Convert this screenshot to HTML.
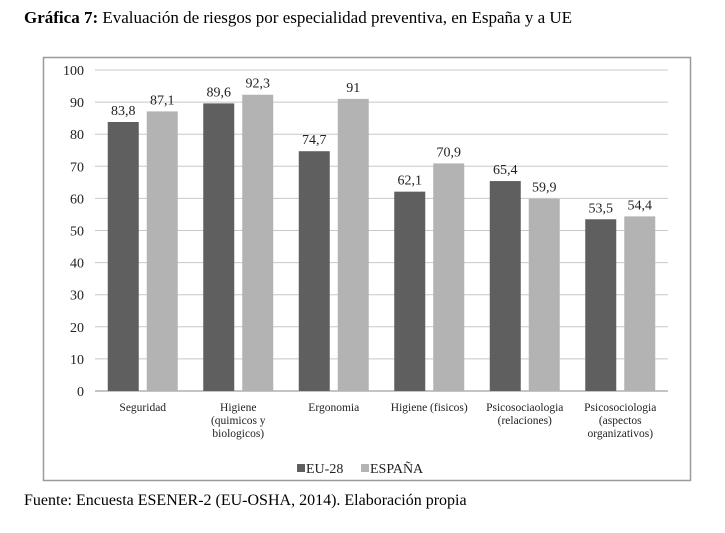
<!DOCTYPE html>
<html><head><meta charset="utf-8"><style>
body{margin:0;background:#fff;width:725px;height:528px;overflow:hidden;font-family:"Liberation Serif",serif;}
</style></head><body>
<svg width="725" height="528" xmlns="http://www.w3.org/2000/svg" font-family="Liberation Serif, serif">
<text x="24" y="23" font-size="17" fill="#000"><tspan font-weight="bold">Gráfica 7:</tspan> Evaluación de riesgos por especialidad preventiva, en España y a UE</text>
<rect x="43.5" y="57.5" width="647" height="423" fill="#fff" stroke="#9a9a9a" stroke-width="1.5"/>
<g id="grid"></g>
<g id="bars"></g>
<g id="legend">
<rect x="297" y="464" width="8" height="8" fill="#5f5f5f"/>
<text x="306" y="473" font-size="14" fill="#222">EU-28</text>
<rect x="361" y="464" width="8" height="8" fill="#b3b3b3"/>
<text x="370" y="473" font-size="14" fill="#222">ESPAÑA</text>
</g>
<text x="24" y="505" font-size="16" fill="#000">Fuente: Encuesta ESENER-2 (EU-OSHA, 2014). Elaboración propia</text>
</svg>
<script>
const categories=[["Seguridad"],["Higiene","(quimicos y","biologicos)"],["Ergonomia"],["Higiene (fisicos)"],["Psicosociaologia","(relaciones)"],["Psicosociologia","(aspectos","organizativos)"]];
const eu28=[83.8,89.6,74.7,62.1,65.4,53.5];
const espana=[87.1,92.3,91,70.9,59.9,54.4];
const yTicks=[0,10,20,30,40,50,60,70,80,90,100];
const NS="http://www.w3.org/2000/svg";
const x0=95,x1=668,y0=391,y100=70;
const y=v=>y0-(v/100)*(y0-y100);
const gw=(x1-x0)/categories.length;
function mk(t,a,p){const e=document.createElementNS(NS,t);for(const k in a)e.setAttribute(k,a[k]);p.appendChild(e);return e;}
const grid=document.getElementById('grid'),bars=document.getElementById('bars');
yTicks.forEach(t=>{
  const l=mk('line',{x1:x0,x2:x1,y1:y(t),y2:y(t),stroke:t===0?'#888':'#c8c8c8','stroke-width':1},grid);
  
  
  const tx=mk('text',{x:84,y:y(t)+5,'text-anchor':'end','font-size':14,fill:'#222'},grid);
  tx.textContent=t;
  
  
});
const fmt=v=>String(v).replace('.',',');
categories.forEach((c,i)=>{
  const cx=x0+gw*(i+0.5),bw=31,gap=8;
  [[eu28[i],'#5f5f5f',cx-gap/2-bw,'eu28'],[espana[i],'#b3b3b3',cx+gap/2,'espana']].forEach(([v,col,bx,nm])=>{
    const r=mk('rect',{x:bx,y:y(v),width:bw,height:y0-y(v),fill:col},bars);
    
    
    const t=mk('text',{x:bx+bw/2,y:y(v)-7,'text-anchor':'middle','font-size':14,fill:'#222'},bars);
    t.textContent=fmt(v);
    
    
  });
  c.forEach((ln,j)=>{
    const t=mk('text',{x:cx,y:411+j*13,'text-anchor':'middle','font-size':11.5,fill:'#222'},bars);
    t.textContent=ln;
    
    
  });
});
</script>
</body></html>
